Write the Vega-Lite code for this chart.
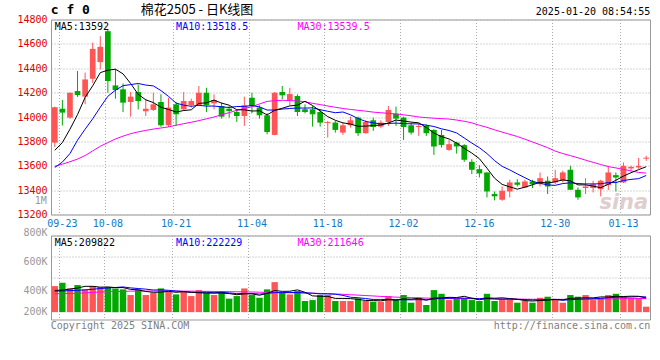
{
"$schema": "https://vega.github.io/schema/vega-lite/v6.json",
"autosize": {"type": "pad"},
"padding": {"left": 16, "top": 2.5, "right": 5, "bottom": 5},
"background": "white",
"config": {"view": {"stroke": "#999", "strokeWidth": 1}, "text": {"font": "DejaVu Sans Mono", "fontSize": 10}, "axis": {"labelOverlap": false, "labelBound": false, "labelFlush": false}},
"spacing": 21,
"bounds": "flush",
"resolve": {"scale": {"x": "independent", "y": "independent"}},
"datasets": {"k": [
{"d":"09-20","o":13790,"h":14085,"l":13755,"c":14080,"v":318000,"m5":13727,"m10":13586,"m30":13595,"vm5":277000,"vm10":270000,"vm30":245000},
{"d":"09-23","o":14068,"h":14140,"l":13930,"c":14036,"v":350000,"m5":13790,"m10":13630,"m30":13613,"vm5":280000,"vm10":272000,"vm30":246000},
{"d":"09-24","o":13995,"h":14200,"l":13985,"c":14199,"v":296000,"m5":13900,"m10":13700,"m30":13633,"vm5":290000,"vm10":275000,"vm30":248000},
{"d":"09-25","o":14213,"h":14377,"l":14165,"c":14180,"v":328000,"m5":14020,"m10":13810,"m30":13655,"vm5":300000,"vm10":278000,"vm30":250000},
{"d":"09-26","o":14167,"h":14365,"l":14105,"c":14308,"v":287000,"m5":14161,"m10":13900,"m30":13684,"vm5":316000,"vm10":282000,"vm30":254000},
{"d":"09-27","o":14314,"h":14610,"l":14280,"c":14559,"v":318000,"m5":14256,"m10":13985,"m30":13722,"vm5":316000,"vm10":288000,"vm30":258000},
{"d":"09-30","o":14450,"h":14663,"l":14390,"c":14576,"v":309000,"m5":14364,"m10":14080,"m30":13760,"vm5":308000,"vm10":295000,"vm30":262000},
{"d":"10-08","o":14704,"h":14720,"l":14200,"c":14295,"v":309000,"m5":14384,"m10":14170,"m30":13790,"vm5":310000,"vm10":300000,"vm30":264000},
{"d":"10-09","o":14259,"h":14395,"l":14150,"c":14221,"v":296000,"m5":14392,"m10":14220,"m30":13820,"vm5":304000,"vm10":305000,"vm30":266000},
{"d":"10-10","o":14227,"h":14275,"l":14040,"c":14118,"v":287000,"m5":14354,"m10":14257,"m30":13843,"vm5":304000,"vm10":310000,"vm30":268000},
{"d":"10-11","o":14123,"h":14205,"l":14003,"c":14167,"v":233000,"m5":14275,"m10":14266,"m30":13863,"vm5":287000,"vm10":301000,"vm30":270000},
{"d":"10-14","o":14205,"h":14268,"l":14063,"c":14131,"v":287000,"m5":14186,"m10":14275,"m30":13878,"vm5":282000,"vm10":295000,"vm30":271000},
{"d":"10-15","o":14047,"h":14150,"l":14008,"c":14068,"v":233000,"m5":14141,"m10":14262,"m30":13890,"vm5":267000,"vm10":289000,"vm30":271000},
{"d":"10-16","o":14058,"h":14200,"l":14050,"c":14104,"v":255000,"m5":14118,"m10":14255,"m30":13901,"vm5":259000,"vm10":281000,"vm30":271000},
{"d":"10-17","o":14123,"h":14186,"l":13920,"c":13932,"v":296000,"m5":14080,"m10":14217,"m30":13910,"vm5":261000,"vm10":282000,"vm30":271000},
{"d":"10-18","o":13932,"h":14158,"l":13918,"c":14077,"v":271000,"m5":14062,"m10":14169,"m30":13919,"vm5":268000,"vm10":278000,"vm30":271000},
{"d":"10-21","o":14104,"h":14123,"l":13927,"c":14022,"v":239000,"m5":14041,"m10":14114,"m30":13932,"vm5":259000,"vm10":271000,"vm30":271000},
{"d":"10-22","o":14063,"h":14205,"l":14050,"c":14131,"v":264000,"m5":14053,"m10":14097,"m30":13945,"vm5":265000,"vm10":266000,"vm30":270000},
{"d":"10-23","o":14098,"h":14150,"l":14077,"c":14131,"v":223000,"m5":14059,"m10":14088,"m30":13957,"vm5":259000,"vm10":259000,"vm30":270000},
{"d":"10-24","o":14096,"h":14254,"l":14090,"c":14199,"v":280000,"m5":14112,"m10":14096,"m30":13970,"vm5":255000,"vm10":258000,"vm30":269000},
{"d":"10-25","o":14199,"h":14240,"l":14040,"c":14096,"v":255000,"m5":14116,"m10":14089,"m30":13985,"vm5":252000,"vm10":260000,"vm30":268000},
{"d":"10-28","o":14112,"h":14186,"l":14063,"c":14139,"v":233000,"m5":14139,"m10":14090,"m30":14000,"vm5":251000,"vm10":255000,"vm30":267000},
{"d":"10-29","o":14090,"h":14118,"l":13987,"c":14003,"v":271000,"m5":14114,"m10":14083,"m30":14018,"vm5":252000,"vm10":259000,"vm30":266000},
{"d":"10-30","o":14068,"h":14090,"l":13995,"c":14049,"v":198000,"m5":14097,"m10":14078,"m30":14036,"vm5":247000,"vm10":253000,"vm30":265000},
{"d":"10-31","o":14041,"h":14063,"l":13960,"c":14008,"v":223000,"m5":14059,"m10":14086,"m30":14055,"vm5":236000,"vm10":246000,"vm30":264000},
{"d":"11-01","o":14008,"h":14167,"l":13927,"c":14096,"v":296000,"m5":14059,"m10":14087,"m30":14070,"vm5":244000,"vm10":248000,"vm30":263000},
{"d":"11-04","o":14158,"h":14199,"l":14030,"c":14090,"v":233000,"m5":14049,"m10":14094,"m30":14085,"vm5":244000,"vm10":248000,"vm30":262000},
{"d":"11-05","o":14077,"h":14096,"l":13987,"c":14014,"v":207000,"m5":14051,"m10":14083,"m30":14107,"vm5":231000,"vm10":242000,"vm30":260000},
{"d":"11-06","o":14014,"h":14030,"l":13858,"c":13877,"v":287000,"m5":14017,"m10":14057,"m30":14128,"vm5":249000,"vm10":248000,"vm30":258000},
{"d":"11-07","o":13853,"h":14205,"l":13850,"c":14199,"v":356000,"m5":14055,"m10":14057,"m30":14134,"vm5":276000,"vm10":256000,"vm30":257000},
{"d":"11-08","o":14205,"h":14254,"l":14145,"c":14178,"v":255000,"m5":14072,"m10":14065,"m30":14137,"vm5":268000,"vm10":256000,"vm30":256000},
{"d":"11-11","o":14139,"h":14240,"l":14096,"c":14188,"v":239000,"m5":14091,"m10":14070,"m30":14135,"vm5":269000,"vm10":257000,"vm30":255000},
{"d":"11-12","o":14172,"h":14186,"l":14008,"c":14041,"v":271000,"m5":14097,"m10":14074,"m30":14132,"vm5":282000,"vm10":257000,"vm30":254000},
{"d":"11-13","o":14063,"h":14104,"l":14030,"c":14041,"v":176000,"m5":14129,"m10":14073,"m30":14125,"vm5":259000,"vm10":254000,"vm30":252000},
{"d":"11-14","o":14063,"h":14090,"l":13921,"c":14022,"v":185000,"m5":14094,"m10":14075,"m30":14112,"vm5":225000,"vm10":251000,"vm30":250000},
{"d":"11-15","o":14041,"h":14063,"l":13921,"c":13954,"v":233000,"m5":14049,"m10":14060,"m30":14102,"vm5":221000,"vm10":244000,"vm30":248000},
{"d":"11-18","o":13950,"h":13968,"l":13831,"c":13958,"v":233000,"m5":14003,"m10":14047,"m30":14090,"vm5":220000,"vm10":244000,"vm30":246000},
{"d":"11-19","o":13954,"h":13968,"l":13872,"c":13894,"v":176000,"m5":13973,"m10":14035,"m30":14080,"vm5":201000,"vm10":241000,"vm30":243000},
{"d":"11-20","o":13872,"h":13954,"l":13853,"c":13932,"v":176000,"m5":13952,"m10":14041,"m30":14070,"vm5":201000,"vm10":230000,"vm30":240000},
{"d":"11-21","o":13932,"h":14003,"l":13913,"c":13973,"v":176000,"m5":13942,"m10":14018,"m30":14062,"vm5":199000,"vm10":212000,"vm30":236000},
{"d":"11-22","o":13995,"h":14003,"l":13845,"c":13867,"v":201000,"m5":13924,"m10":13987,"m30":14055,"vm5":192000,"vm10":207000,"vm30":232000},
{"d":"11-25","o":13867,"h":13973,"l":13864,"c":13959,"v":176000,"m5":13925,"m10":13964,"m30":14048,"vm5":181000,"vm10":200000,"vm30":228000},
{"d":"11-26","o":13973,"h":13995,"l":13886,"c":13918,"v":169000,"m5":13930,"m10":13952,"m30":14040,"vm5":180000,"vm10":190000,"vm30":224000},
{"d":"11-27","o":13921,"h":13973,"l":13908,"c":13954,"v":169000,"m5":13934,"m10":13943,"m30":14035,"vm5":178000,"vm10":189000,"vm30":220000},
{"d":"11-28","o":13959,"h":14090,"l":13927,"c":14058,"v":223000,"m5":13951,"m10":13947,"m30":14030,"vm5":188000,"vm10":193000,"vm30":216000},
{"d":"11-29","o":14027,"h":14085,"l":13927,"c":13987,"v":185000,"m5":13975,"m10":13950,"m30":14025,"vm5":184000,"vm10":188000,"vm30":213000},
{"d":"12-02","o":13995,"h":14003,"l":13812,"c":13918,"v":233000,"m5":13967,"m10":13946,"m30":14018,"vm5":196000,"vm10":188000,"vm30":210000},
{"d":"12-03","o":13932,"h":13954,"l":13856,"c":13872,"v":160000,"m5":13958,"m10":13944,"m30":14010,"vm5":194000,"vm10":187000,"vm30":208000},
{"d":"12-04","o":13918,"h":13948,"l":13845,"c":13926,"v":207000,"m5":13952,"m10":13943,"m30":14000,"vm5":202000,"vm10":190000,"vm30":206000},
{"d":"12-05","o":13927,"h":13940,"l":13845,"c":13867,"v":138000,"m5":13914,"m10":13933,"m30":13995,"vm5":185000,"vm10":186000,"vm30":204000},
{"d":"12-06","o":13894,"h":13899,"l":13689,"c":13758,"v":280000,"m5":13868,"m10":13922,"m30":13990,"vm5":204000,"vm10":194000,"vm30":203000},
{"d":"12-09","o":13853,"h":13894,"l":13750,"c":13771,"v":245000,"m5":13839,"m10":13903,"m30":13987,"vm5":206000,"vm10":201000,"vm30":202000},
{"d":"12-10","o":13730,"h":13812,"l":13722,"c":13777,"v":185000,"m5":13820,"m10":13889,"m30":13983,"vm5":211000,"vm10":203000,"vm30":201000},
{"d":"12-11","o":13790,"h":13796,"l":13700,"c":13758,"v":198000,"m5":13786,"m10":13869,"m30":13975,"vm5":209000,"vm10":205000,"vm30":200000},
{"d":"12-12","o":13769,"h":13777,"l":13632,"c":13649,"v":198000,"m5":13743,"m10":13828,"m30":13965,"vm5":221000,"vm10":203000,"vm30":200000},
{"d":"12-13","o":13632,"h":13654,"l":13531,"c":13567,"v":185000,"m5":13704,"m10":13786,"m30":13952,"vm5":202000,"vm10":203000,"vm30":199000},
{"d":"12-16","o":13572,"h":13605,"l":13504,"c":13537,"v":176000,"m5":13658,"m10":13748,"m30":13932,"vm5":188000,"vm10":197000,"vm30":198000},
{"d":"12-17","o":13545,"h":13545,"l":13340,"c":13389,"v":245000,"m5":13580,"m10":13700,"m30":13915,"vm5":200000,"vm10":206000,"vm30":198000},
{"d":"12-18","o":13368,"h":13389,"l":13316,"c":13349,"v":176000,"m5":13498,"m10":13642,"m30":13895,"vm5":196000,"vm10":203000,"vm30":197000},
{"d":"12-19","o":13321,"h":13430,"l":13313,"c":13395,"v":185000,"m5":13447,"m10":13595,"m30":13876,"vm5":193000,"vm10":207000,"vm30":196000},
{"d":"12-20","o":13389,"h":13485,"l":13340,"c":13463,"v":201000,"m5":13427,"m10":13566,"m30":13858,"vm5":197000,"vm10":199000,"vm30":195000},
{"d":"12-23","o":13463,"h":13490,"l":13430,"c":13444,"v":160000,"m5":13408,"m10":13533,"m30":13840,"vm5":193000,"vm10":191000,"vm30":194000},
{"d":"12-24","o":13422,"h":13485,"l":13417,"c":13471,"v":176000,"m5":13424,"m10":13502,"m30":13818,"vm5":180000,"vm10":190000,"vm30":193000},
{"d":"12-25","o":13471,"h":13485,"l":13417,"c":13449,"v":160000,"m5":13444,"m10":13471,"m30":13795,"vm5":176000,"vm10":186000,"vm30":192000},
{"d":"12-26","o":13449,"h":13545,"l":13430,"c":13498,"v":207000,"m5":13465,"m10":13456,"m30":13772,"vm5":181000,"vm10":187000,"vm30":192000},
{"d":"12-27","o":13477,"h":13512,"l":13368,"c":13430,"v":217000,"m5":13458,"m10":13443,"m30":13748,"vm5":184000,"vm10":190000,"vm30":191000},
{"d":"12-30","o":13463,"h":13567,"l":13449,"c":13498,"v":192000,"m5":13469,"m10":13439,"m30":13720,"vm5":190000,"vm10":192000,"vm30":191000},
{"d":"12-31","o":13477,"h":13559,"l":13463,"c":13545,"v":160000,"m5":13484,"m10":13454,"m30":13700,"vm5":187000,"vm10":183000,"vm30":191000},
{"d":"01-02","o":13567,"h":13600,"l":13403,"c":13403,"v":233000,"m5":13475,"m10":13460,"m30":13683,"vm5":202000,"vm10":189000,"vm30":192000},
{"d":"01-03","o":13403,"h":13422,"l":13321,"c":13340,"v":217000,"m5":13443,"m10":13454,"m30":13665,"vm5":204000,"vm10":192000,"vm30":193000},
{"d":"01-06","o":13417,"h":13498,"l":13368,"c":13430,"v":233000,"m5":13443,"m10":13451,"m30":13646,"vm5":207000,"vm10":196000,"vm30":193000},
{"d":"01-07","o":13417,"h":13477,"l":13381,"c":13449,"v":185000,"m5":13433,"m10":13451,"m30":13628,"vm5":206000,"vm10":198000,"vm30":194000},
{"d":"01-08","o":13408,"h":13485,"l":13349,"c":13477,"v":207000,"m5":13420,"m10":13452,"m30":13610,"vm5":215000,"vm10":201000,"vm30":195000},
{"d":"01-09","o":13441,"h":13600,"l":13400,"c":13545,"v":233000,"m5":13448,"m10":13462,"m30":13593,"vm5":215000,"vm10":208000,"vm30":196000},
{"d":"01-10","o":13523,"h":13545,"l":13389,"c":13504,"v":245000,"m5":13481,"m10":13462,"m30":13582,"vm5":221000,"vm10":212000,"vm30":197000},
{"d":"01-13","o":13463,"h":13627,"l":13458,"c":13599,"v":223000,"m5":13515,"m10":13479,"m30":13570,"vm5":219000,"vm10":213000,"vm30":198000},
{"d":"01-14","o":13578,"h":13600,"l":13553,"c":13591,"v":201000,"m5":13543,"m10":13488,"m30":13558,"vm5":222000,"vm10":214000,"vm30":199000},
{"d":"01-15","o":13586,"h":13665,"l":13575,"c":13599,"v":201000,"m5":13568,"m10":13494,"m30":13545,"vm5":221000,"vm10":218000,"vm30":200000},
{"d":"01-16","o":13658,"h":13682,"l":13640,"c":13666,"v":122000,"m5":13592,"m10":13520,"m30":13540,"vm5":205000,"vm10":215000,"vm30":200000}
]},
"vconcat": [
{
"width": 599, "height": 195,
"data": {"name": "k"},
"encoding": {
 "x": {"field": "d", "type": "ordinal", "sort": null,
  "scale": {"domain": ["09-20","09-23","09-24","09-25","09-26","09-27","09-30","10-08","10-09","10-10","10-11","10-14","10-15","10-16","10-17","10-18","10-21","10-22","10-23","10-24","10-25","10-28","10-29","10-30","10-31","11-01","11-04","11-05","11-06","11-07","11-08","11-11","11-12","11-13","11-14","11-15","11-18","11-19","11-20","11-21","11-22","11-25","11-26","11-27","11-28","11-29","12-02","12-03","12-04","12-05","12-06","12-09","12-10","12-11","12-12","12-13","12-16","12-17","12-18","12-19","12-20","12-23","12-24","12-25","12-26","12-27","12-30","12-31","01-02","01-03","01-06","01-07","01-08","01-09","01-10","01-13","01-14","01-15","01-16"], "paddingInner": 0.25, "paddingOuter": 0.125},
  "axis": {"values": ["09-23","10-08","10-21","11-04","11-18","12-02","12-16","12-30","01-13"], "bandPosition": 0, "title": null, "grid": true, "gridColor": "#aaa", "gridDash": [1, 2], "domain": false, "ticks": false, "labelAngle": 0, "labelOverlap": false, "labelColor": "#1478c8", "labelFont": "DejaVu Sans Mono", "labelFontSize": 10, "labelPadding": 4}}
},
"layer": [
{"mark": {"type": "rule", "strokeWidth": 1},
 "encoding": {
  "y": {"field": "l", "type": "quantitative", "scale": {"domain": [13200, 14800], "zero": false, "nice": false},
   "axis": {"values": [13200,13400,13600,13800,14000,14200,14400,14600,14800], "title": null, "grid": true, "gridColor": "#aaa", "gridDash": [1, 2], "domain": false, "ticks": false, "labelOverlap": false, "labelColor": "#e00000", "labelFont": "DejaVu Sans Mono", "labelFontSize": 10, "labelPadding": 4, "format": "d"}},
  "y2": {"field": "h"},
  "color": {"condition": {"test": "datum.c >= datum.o", "value": "#ff5555"}, "value": "#00a800"}
 }},
{"mark": {"type": "bar"},
 "encoding": {
  "y": {"field": "o", "type": "quantitative",
   "axis": {"values": [13200,13400,13600,13800,14000,14200,14400,14600,14800], "title": null, "grid": true, "gridColor": "#aaa", "gridDash": [1, 2], "domain": false, "ticks": false, "labelOverlap": false, "labelColor": "#e00000", "labelFont": "DejaVu Sans Mono", "labelFontSize": 10, "labelPadding": 4, "format": "d"}},
  "y2": {"field": "c"},
  "color": {"condition": {"test": "datum.c >= datum.o", "value": "#ff5555"}, "value": "#00a800"}
 }},
{"transform": [{"filter": "datum.d == '01-16'"}],
 "mark": {"type": "text", "align": "right", "baseline": "bottom", "dx": 2, "dy": -2, "color": "#d9c2c2", "opacity": 0.8, "font": "DejaVu Sans", "fontSize": 21, "fontWeight": "bold", "fontStyle": "italic", "text": "sina"},
 "encoding": {"y": {"datum": 13200, "type": "quantitative",
   "axis": {"values": [13200,13400,13600,13800,14000,14200,14400,14600,14800], "title": null, "grid": true, "gridColor": "#aaa", "gridDash": [1, 2], "domain": false, "ticks": false, "labelOverlap": false, "labelColor": "#e00000", "labelFont": "DejaVu Sans Mono", "labelFontSize": 10, "labelPadding": 4, "format": "d"}}}},
{"mark": {"type": "line", "color": "#ff00ff", "strokeWidth": 1},
 "encoding": {"y": {"field": "m30", "type": "quantitative",
   "axis": {"values": [13200,13400,13600,13800,14000,14200,14400,14600,14800], "title": null, "grid": true, "gridColor": "#aaa", "gridDash": [1, 2], "domain": false, "ticks": false, "labelOverlap": false, "labelColor": "#e00000", "labelFont": "DejaVu Sans Mono", "labelFontSize": 10, "labelPadding": 4, "format": "d"}}}},
{"mark": {"type": "line", "color": "#0000ff", "strokeWidth": 1},
 "encoding": {"y": {"field": "m10", "type": "quantitative",
   "axis": {"values": [13200,13400,13600,13800,14000,14200,14400,14600,14800], "title": null, "grid": true, "gridColor": "#aaa", "gridDash": [1, 2], "domain": false, "ticks": false, "labelOverlap": false, "labelColor": "#e00000", "labelFont": "DejaVu Sans Mono", "labelFontSize": 10, "labelPadding": 4, "format": "d"}}}},
{"mark": {"type": "line", "color": "#000000", "strokeWidth": 1},
 "encoding": {"y": {"field": "m5", "type": "quantitative",
   "axis": {"values": [13200,13400,13600,13800,14000,14200,14400,14600,14800], "title": null, "grid": true, "gridColor": "#aaa", "gridDash": [1, 2], "domain": false, "ticks": false, "labelOverlap": false, "labelColor": "#e00000", "labelFont": "DejaVu Sans Mono", "labelFontSize": 10, "labelPadding": 4, "format": "d"}}}},
{"transform": [{"filter": "datum.d == '09-20'"}],
 "mark": {"type": "text", "align": "left", "baseline": "top", "dy": 2, "color": "#000", "text": "MA5:13592"},
 "encoding": {"y": {"datum": 14800, "type": "quantitative",
   "axis": {"values": [13200,13400,13600,13800,14000,14200,14400,14600,14800], "title": null, "grid": true, "gridColor": "#aaa", "gridDash": [1, 2], "domain": false, "ticks": false, "labelOverlap": false, "labelColor": "#e00000", "labelFont": "DejaVu Sans Mono", "labelFontSize": 10, "labelPadding": 4, "format": "d"}}}},
{"transform": [{"filter": "datum.d == '10-21'"}],
 "mark": {"type": "text", "align": "left", "baseline": "top", "dy": 2, "color": "#0000ff", "text": "MA10:13518.5"},
 "encoding": {"y": {"datum": 14800, "type": "quantitative",
   "axis": {"values": [13200,13400,13600,13800,14000,14200,14400,14600,14800], "title": null, "grid": true, "gridColor": "#aaa", "gridDash": [1, 2], "domain": false, "ticks": false, "labelOverlap": false, "labelColor": "#e00000", "labelFont": "DejaVu Sans Mono", "labelFontSize": 10, "labelPadding": 4, "format": "d"}}}},
{"transform": [{"filter": "datum.d == '11-12'"}],
 "mark": {"type": "text", "align": "left", "baseline": "top", "dy": 2, "color": "#ff00ff", "text": "MA30:13539.5"},
 "encoding": {"y": {"datum": 14800, "type": "quantitative",
   "axis": {"values": [13200,13400,13600,13800,14000,14200,14400,14600,14800], "title": null, "grid": true, "gridColor": "#aaa", "gridDash": [1, 2], "domain": false, "ticks": false, "labelOverlap": false, "labelColor": "#e00000", "labelFont": "DejaVu Sans Mono", "labelFontSize": 10, "labelPadding": 4, "format": "d"}}}},
{"transform": [{"filter": "datum.d == '09-20'"}],
 "mark": {"type": "text", "align": "right", "baseline": "middle", "dx": -8, "color": "#999", "text": "1M"},
 "encoding": {"y": {"datum": 13309, "type": "quantitative",
   "axis": {"values": [13200,13400,13600,13800,14000,14200,14400,14600,14800], "title": null, "grid": true, "gridColor": "#aaa", "gridDash": [1, 2], "domain": false, "ticks": false, "labelOverlap": false, "labelColor": "#e00000", "labelFont": "DejaVu Sans Mono", "labelFontSize": 10, "labelPadding": 4, "format": "d"}}}},
{"transform": [{"filter": "datum.d == '09-20'"}],
 "mark": {"type": "text", "align": "left", "baseline": "bottom", "dx": -4, "dy": -3, "color": "#000", "font": "DejaVu Sans Mono", "fontSize": 13, "fontWeight": "bold", "text": "c f 0"},
 "encoding": {"y": {"datum": 14800, "type": "quantitative",
   "axis": {"values": [13200,13400,13600,13800,14000,14200,14400,14600,14800], "title": null, "grid": true, "gridColor": "#aaa", "gridDash": [1, 2], "domain": false, "ticks": false, "labelOverlap": false, "labelColor": "#e00000", "labelFont": "DejaVu Sans Mono", "labelFontSize": 10, "labelPadding": 4, "format": "d"}}}},
{"transform": [{"filter": "datum.d == '10-15'"}],
 "mark": {"type": "text", "align": "left", "baseline": "bottom", "dx": -5, "dy": -3, "color": "#000", "font": "Noto Sans CJK SC", "fontSize": 13, "text": "棉花2505 - 日K线图"},
 "encoding": {"y": {"datum": 14800, "type": "quantitative",
   "axis": {"values": [13200,13400,13600,13800,14000,14200,14400,14600,14800], "title": null, "grid": true, "gridColor": "#aaa", "gridDash": [1, 2], "domain": false, "ticks": false, "labelOverlap": false, "labelColor": "#e00000", "labelFont": "DejaVu Sans Mono", "labelFontSize": 10, "labelPadding": 4, "format": "d"}}}},
{"transform": [{"filter": "datum.d == '01-16'"}],
 "mark": {"type": "text", "align": "right", "baseline": "bottom", "dx": 4, "dy": -3, "color": "#000", "text": "2025-01-20 08:54:55"},
 "encoding": {"y": {"datum": 14800, "type": "quantitative",
   "axis": {"values": [13200,13400,13600,13800,14000,14200,14400,14600,14800], "title": null, "grid": true, "gridColor": "#aaa", "gridDash": [1, 2], "domain": false, "ticks": false, "labelOverlap": false, "labelColor": "#e00000", "labelFont": "DejaVu Sans Mono", "labelFontSize": 10, "labelPadding": 4, "format": "d"}}}}
]
},
{
"width": 599, "height": 84,
"data": {"name": "k"},
"encoding": {
 "x": {"field": "d", "type": "ordinal", "sort": null,
  "scale": {"domain": ["09-20","09-23","09-24","09-25","09-26","09-27","09-30","10-08","10-09","10-10","10-11","10-14","10-15","10-16","10-17","10-18","10-21","10-22","10-23","10-24","10-25","10-28","10-29","10-30","10-31","11-01","11-04","11-05","11-06","11-07","11-08","11-11","11-12","11-13","11-14","11-15","11-18","11-19","11-20","11-21","11-22","11-25","11-26","11-27","11-28","11-29","12-02","12-03","12-04","12-05","12-06","12-09","12-10","12-11","12-12","12-13","12-16","12-17","12-18","12-19","12-20","12-23","12-24","12-25","12-26","12-27","12-30","12-31","01-02","01-03","01-06","01-07","01-08","01-09","01-10","01-13","01-14","01-15","01-16"], "paddingInner": 0.16, "paddingOuter": 0.08},
  "axis": {"values": ["09-23","10-08","10-21","11-04","11-18","12-02","12-16","12-30","01-13"], "bandPosition": 0, "title": null, "grid": true, "gridColor": "#aaa", "gridDash": [1, 2], "domain": false, "ticks": false, "labels": false}}
},
"layer": [
{"mark": {"type": "bar"},
 "encoding": {
  "y": {"field": "v", "type": "quantitative", "scale": {"domain": [0, 800000], "nice": false},
   "axis": {"values": [200000, 400000, 600000, 800000], "labelExpr": "datum.value / 1000 + 'K'", "title": null, "grid": true, "gridColor": "#aaa", "gridDash": [1, 2], "domain": false, "ticks": false, "labelOverlap": false, "labelColor": "#999", "labelFont": "DejaVu Sans Mono", "labelFontSize": 10, "labelPadding": 4, "labelOffset": {"expr": "datum.value == 800000 ? -3 : datum.value == 600000 ? 5 : 13"}}},
  "y2": {"datum": 70000},
  "color": {"condition": {"test": "datum.c >= datum.o", "value": "#ff5555"}, "value": "#00a800"}
 }},
{"mark": {"type": "line", "color": "#ff00ff", "strokeWidth": 1},
 "encoding": {"y": {"field": "vm30", "type": "quantitative",
   "axis": {"values": [200000, 400000, 600000, 800000], "labelExpr": "datum.value / 1000 + 'K'", "title": null, "grid": true, "gridColor": "#aaa", "gridDash": [1, 2], "domain": false, "ticks": false, "labelOverlap": false, "labelColor": "#999", "labelFont": "DejaVu Sans Mono", "labelFontSize": 10, "labelPadding": 4, "labelOffset": {"expr": "datum.value == 800000 ? -3 : datum.value == 600000 ? 5 : 13"}}}}},
{"mark": {"type": "line", "color": "#0000ff", "strokeWidth": 1},
 "encoding": {"y": {"field": "vm10", "type": "quantitative",
   "axis": {"values": [200000, 400000, 600000, 800000], "labelExpr": "datum.value / 1000 + 'K'", "title": null, "grid": true, "gridColor": "#aaa", "gridDash": [1, 2], "domain": false, "ticks": false, "labelOverlap": false, "labelColor": "#999", "labelFont": "DejaVu Sans Mono", "labelFontSize": 10, "labelPadding": 4, "labelOffset": {"expr": "datum.value == 800000 ? -3 : datum.value == 600000 ? 5 : 13"}}}}},
{"mark": {"type": "line", "color": "#000000", "strokeWidth": 1},
 "encoding": {"y": {"field": "vm5", "type": "quantitative",
   "axis": {"values": [200000, 400000, 600000, 800000], "labelExpr": "datum.value / 1000 + 'K'", "title": null, "grid": true, "gridColor": "#aaa", "gridDash": [1, 2], "domain": false, "ticks": false, "labelOverlap": false, "labelColor": "#999", "labelFont": "DejaVu Sans Mono", "labelFontSize": 10, "labelPadding": 4, "labelOffset": {"expr": "datum.value == 800000 ? -3 : datum.value == 600000 ? 5 : 13"}}}}},
{"transform": [{"filter": "datum.d == '09-20'"}],
 "mark": {"type": "text", "align": "left", "baseline": "top", "dy": 2, "color": "#000", "text": "MA5:209822"},
 "encoding": {"y": {"datum": 800000, "type": "quantitative",
   "axis": {"values": [200000, 400000, 600000, 800000], "labelExpr": "datum.value / 1000 + 'K'", "title": null, "grid": true, "gridColor": "#aaa", "gridDash": [1, 2], "domain": false, "ticks": false, "labelOverlap": false, "labelColor": "#999", "labelFont": "DejaVu Sans Mono", "labelFontSize": 10, "labelPadding": 4, "labelOffset": {"expr": "datum.value == 800000 ? -3 : datum.value == 600000 ? 5 : 13"}}}}},
{"transform": [{"filter": "datum.d == '10-21'"}],
 "mark": {"type": "text", "align": "left", "baseline": "top", "dy": 2, "color": "#0000ff", "text": "MA10:222229"},
 "encoding": {"y": {"datum": 800000, "type": "quantitative",
   "axis": {"values": [200000, 400000, 600000, 800000], "labelExpr": "datum.value / 1000 + 'K'", "title": null, "grid": true, "gridColor": "#aaa", "gridDash": [1, 2], "domain": false, "ticks": false, "labelOverlap": false, "labelColor": "#999", "labelFont": "DejaVu Sans Mono", "labelFontSize": 10, "labelPadding": 4, "labelOffset": {"expr": "datum.value == 800000 ? -3 : datum.value == 600000 ? 5 : 13"}}}}},
{"transform": [{"filter": "datum.d == '11-12'"}],
 "mark": {"type": "text", "align": "left", "baseline": "top", "dy": 2, "color": "#ff00ff", "text": "MA30:211646"},
 "encoding": {"y": {"datum": 800000, "type": "quantitative",
   "axis": {"values": [200000, 400000, 600000, 800000], "labelExpr": "datum.value / 1000 + 'K'", "title": null, "grid": true, "gridColor": "#aaa", "gridDash": [1, 2], "domain": false, "ticks": false, "labelOverlap": false, "labelColor": "#999", "labelFont": "DejaVu Sans Mono", "labelFontSize": 10, "labelPadding": 4, "labelOffset": {"expr": "datum.value == 800000 ? -3 : datum.value == 600000 ? 5 : 13"}}}}},
{"transform": [{"filter": "datum.d == '09-20'"}],
 "mark": {"type": "text", "align": "left", "baseline": "top", "dx": -4, "dy": 1, "color": "#808080", "text": "Copyright 2025 SINA.COM"},
 "encoding": {"y": {"datum": 0, "type": "quantitative",
   "axis": {"values": [200000, 400000, 600000, 800000], "labelExpr": "datum.value / 1000 + 'K'", "title": null, "grid": true, "gridColor": "#aaa", "gridDash": [1, 2], "domain": false, "ticks": false, "labelOverlap": false, "labelColor": "#999", "labelFont": "DejaVu Sans Mono", "labelFontSize": 10, "labelPadding": 4, "labelOffset": {"expr": "datum.value == 800000 ? -3 : datum.value == 600000 ? 5 : 13"}}}}},
{"transform": [{"filter": "datum.d == '01-16'"}],
 "mark": {"type": "text", "align": "right", "baseline": "top", "dx": 4, "dy": 1, "color": "#808080", "text": "http://finance.sina.com.cn"},
 "encoding": {"y": {"datum": 0, "type": "quantitative",
   "axis": {"values": [200000, 400000, 600000, 800000], "labelExpr": "datum.value / 1000 + 'K'", "title": null, "grid": true, "gridColor": "#aaa", "gridDash": [1, 2], "domain": false, "ticks": false, "labelOverlap": false, "labelColor": "#999", "labelFont": "DejaVu Sans Mono", "labelFontSize": 10, "labelPadding": 4, "labelOffset": {"expr": "datum.value == 800000 ? -3 : datum.value == 600000 ? 5 : 13"}}}}}
]
}
]
}
